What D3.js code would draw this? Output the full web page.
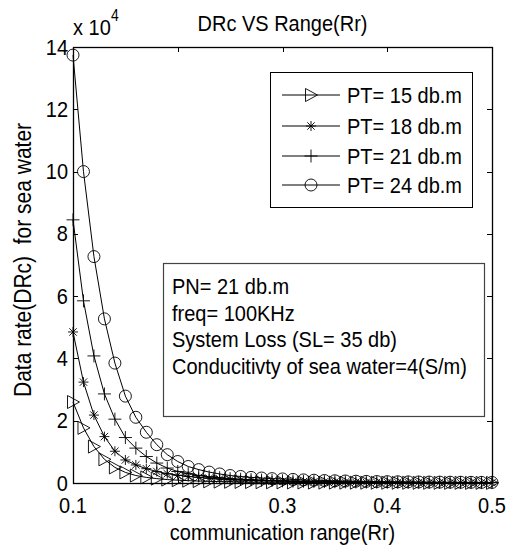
<!DOCTYPE html>
<html>
<head>
<meta charset="utf-8">
<script src="https://cdn.jsdelivr.net/npm/d3@7"></script>
<style>
  body { margin: 0; background: #fff; }
  svg { display: block; font-family: "Liberation Sans", Arial, sans-serif; }
  text { white-space: pre; fill: #000; }
</style>
</head>
<body>
<svg id="chart" width="506" height="546"></svg>
<script>
// communication range (Rr)
var ranges = [0.10, 0.11, 0.12, 0.13, 0.14, 0.15, 0.16, 0.17, 0.18, 0.19,
              0.20, 0.21, 0.22, 0.23, 0.24, 0.25, 0.26, 0.27, 0.28, 0.29,
              0.30, 0.31, 0.32, 0.33, 0.34, 0.35, 0.36, 0.37, 0.38, 0.39,
              0.40, 0.41, 0.42, 0.43, 0.44, 0.45, 0.46, 0.47, 0.48, 0.49, 0.50];

// data rate, in units of 1e4
var pt15 = [2.60, 1.77, 1.17, 0.76, 0.50, 0.34, 0.24, 0.18, 0.14, 0.11,
            0.090, 0.075, 0.063, 0.053, 0.045, 0.039, 0.034, 0.030, 0.026, 0.023,
            0.020, 0.018, 0.016, 0.015, 0.013, 0.012, 0.011, 0.010, 0.009, 0.008,
            0.008, 0.007, 0.007, 0.006, 0.006, 0.005, 0.005, 0.005, 0.004, 0.004, 0.004];
var pt18 = [4.85, 3.24, 2.18, 1.49, 1.02, 0.74, 0.58, 0.46, 0.37, 0.30,
            0.25, 0.21, 0.18, 0.15, 0.13, 0.11, 0.095, 0.083, 0.072, 0.063,
            0.056, 0.050, 0.045, 0.040, 0.036, 0.032, 0.029, 0.026, 0.024, 0.022,
            0.020, 0.018, 0.017, 0.015, 0.014, 0.013, 0.012, 0.011, 0.010, 0.010, 0.009];
var pt21 = [8.45, 5.85, 4.08, 2.86, 2.05, 1.46, 1.12, 0.85, 0.64, 0.48,
            0.37, 0.30, 0.24, 0.20, 0.17, 0.14, 0.12, 0.105, 0.092, 0.081,
            0.072, 0.064, 0.057, 0.051, 0.046, 0.041, 0.037, 0.034, 0.031, 0.028,
            0.026, 0.024, 0.022, 0.020, 0.018, 0.017, 0.016, 0.015, 0.014, 0.013, 0.012];
var pt24 = [13.74, 10.0, 7.27, 5.27, 3.85, 2.79, 2.11, 1.63, 1.23, 0.91,
            0.69, 0.53, 0.43, 0.35, 0.29, 0.24, 0.21, 0.18, 0.16, 0.14,
            0.13, 0.115, 0.10, 0.09, 0.08, 0.072, 0.065, 0.058, 0.052, 0.047,
            0.043, 0.039, 0.036, 0.033, 0.030, 0.028, 0.026, 0.024, 0.022, 0.020, 0.019];

var seriesNames = ["PT= 15 db.m", "PT= 18 db.m", "PT= 21 db.m", "PT= 24 db.m"];
var seriesValues = [pt15, pt18, pt21, pt24];
var seriesMarkers = ["triangle", "star", "plus", "circle"];

var xTicks = [0.1, 0.2, 0.3, 0.4, 0.5];
var yTicks = [0, 2, 4, 6, 8, 10, 12, 14];

var infoLines = ["PN= 21 db.m", "freq= 100KHz", "System Loss (SL= 35 db)",
                 "Conducitivty of sea water=4(S/m)"];

var FONT = 20;
var STRETCH = 1.12;   // the original text is a little taller than wide

var svg = d3.select("#chart");
var plotLeft = 73, plotRight = 492, plotTop = 47, plotBottom = 483;

var x = d3.scaleLinear().domain([0.1, 0.5]).range([plotLeft, plotRight]);
var y = d3.scaleLinear().domain([0, 14]).range([plotBottom, plotTop]);

// text helper, keeps the vertical stretch of the original
function label(g, px, py, str, size, anchor, rotate) {
  return g.append("text")
    .attr("transform", "translate(" + px + "," + py + ")" +
          (rotate ? " rotate(" + rotate + ")" : "") + " scale(1," + STRETCH + ")")
    .attr("font-size", size)
    .attr("text-anchor", anchor || "start")
    .text(str);
}

function drawMarker(g, kind, cx, cy) {
  var m = g.append("g").attr("transform", "translate(" + cx + "," + cy + ")")
    .attr("fill", "none").attr("stroke", "#000").attr("stroke-width", 0.9);
  if (kind === "circle") {
    m.append("circle").attr("r", 6);
  } else if (kind === "triangle") {
    m.append("path").attr("d", "M-5.5,-6.5L6.5,0L-5.5,6.5Z");
  } else if (kind === "plus") {
    m.append("path").attr("d", "M-6.5,0H6.5M0,-6.5V6.5");
  } else if (kind === "star") {
    m.append("path").attr("d", "M-5,0H5M0,-5V5M-3.7,-3.7L3.7,3.7M-3.7,3.7L3.7,-3.7");
  }
}

var line = d3.line()
  .x(function(d, i) { return x(ranges[i]); })
  .y(function(d) { return y(d); });

var plot = svg.append("g");
seriesValues.forEach(function(vals, s) {
  plot.append("path").attr("d", line(vals))
    .attr("fill", "none").attr("stroke", "#000").attr("stroke-width", 1);
  vals.forEach(function(v, i) {
    drawMarker(plot, seriesMarkers[s], x(ranges[i]), y(v));
  });
});

// ticks on all four sides, pointing inward
var axes = svg.append("g").attr("stroke", "#000").attr("stroke-width", 1);
var TICK = 5;
xTicks.forEach(function(t) {
  var px = Math.round(x(t)) + 0.5;
  axes.append("line").attr("x1", px).attr("x2", px).attr("y1", plotBottom).attr("y2", plotBottom - TICK);
  axes.append("line").attr("x1", px).attr("x2", px).attr("y1", plotTop).attr("y2", plotTop + TICK);
});
yTicks.forEach(function(t) {
  var py = Math.round(y(t)) + 0.5;
  axes.append("line").attr("x1", plotLeft).attr("x2", plotLeft + TICK).attr("y1", py).attr("y2", py);
  axes.append("line").attr("x1", plotRight).attr("x2", plotRight - TICK).attr("y1", py).attr("y2", py);
});
axes.append("rect").attr("x", plotLeft + 0.5).attr("y", plotTop + 0.5)
  .attr("width", plotRight - plotLeft).attr("height", plotBottom - plotTop)
  .attr("fill", "none").attr("stroke-width", 1.3);

// tick labels
var txt = svg.append("g");
xTicks.forEach(function(t) {
  label(txt, x(t), 513, d3.format(".1f")(t), FONT, "middle");
});
yTicks.forEach(function(t) {
  label(txt, 68, y(t) + 7.5, String(t), FONT, "end");
});
label(txt, 73, 35, "x 10", FONT, "start");
label(txt, 111, 21, "4", 14, "start");

// titles
label(txt, (plotLeft + plotRight) / 2, 31, "DRc VS Range(Rr)", FONT, "middle");
label(txt, (plotLeft + plotRight) / 2, 540, "communication range(Rr)", FONT, "middle");
label(txt, 31, 260, "Data rate(DRc)  for sea water", 21, "middle", -90);

// legend
var leg = svg.append("g");
leg.append("rect").attr("x", 270.5).attr("y", 72.5).attr("width", 202).attr("height", 135)
  .attr("fill", "#fff").attr("stroke", "#000").attr("stroke-width", 1);
var legY = [95, 126, 156, 185];
seriesNames.forEach(function(name, s) {
  leg.append("line").attr("x1", 282).attr("x2", 340)
    .attr("y1", legY[s]).attr("y2", legY[s]).attr("stroke", "#000").attr("stroke-width", 1);
  drawMarker(leg, seriesMarkers[s], 311, legY[s]);
  label(leg, 347, legY[s] + 7.5, name, FONT, "start");
});

// annotation box
var info = svg.append("g");
info.append("rect").attr("x", 163.5).attr("y", 263.5).attr("width", 321).attr("height", 153)
  .attr("fill", "#fff").attr("stroke", "#444").attr("stroke-width", 1.2);
infoLines.forEach(function(s, i) {
  label(info, 172, 294 + i * 26.5, s, FONT, "start");
});
</script>
</body>
</html>
